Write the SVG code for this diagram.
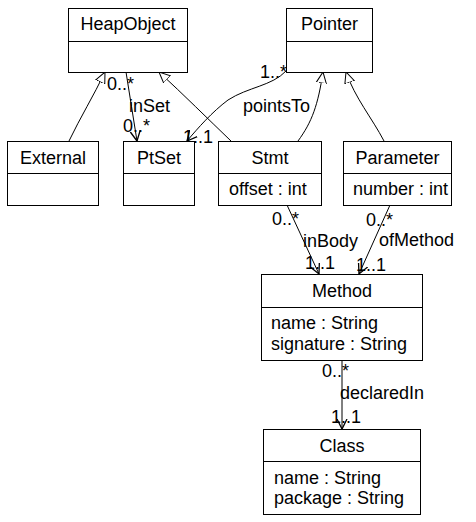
<svg xmlns="http://www.w3.org/2000/svg" width="476" height="522" viewBox="0 0 476 522">
<style>
.box{fill:#fff;stroke:#000;stroke-width:1}
.div{stroke:#000;stroke-width:1}
.t{font-family:"Liberation Sans",Arial,sans-serif;font-size:18px;fill:#000}
.c{text-anchor:middle}
.ln{fill:none;stroke:#000;stroke-width:1}
</style>
<defs>
<marker id="gen" markerWidth="12" markerHeight="12" refX="11" refY="5" orient="auto" markerUnits="userSpaceOnUse" viewBox="0 0 12 10">
<path d="M0,0 L11,5 L0,10 z" fill="#fff" stroke="#000" stroke-width="1"/>
</marker>
<marker id="open" markerWidth="12" markerHeight="12" refX="10" refY="5" orient="auto" markerUnits="userSpaceOnUse" viewBox="0 0 12 10">
<path d="M0,0 L10,5 L0,10" fill="none" stroke="#000" stroke-width="1.3"/>
</marker>
</defs>
<rect width="476" height="522" fill="#fff"/>
<g id="connectors">
<path class="ln" d="M69,141 C80,118 94,95 105,72" marker-end="url(#gen)"/>
<path class="ln" d="M231,141 C207,118 184,95 159,72" marker-end="url(#gen)"/>
<path class="ln" d="M298,141 C312,122 318,105 323,72" marker-end="url(#gen)"/>
<path class="ln" d="M384,141 C372,118 355,98 346,72" marker-end="url(#gen)"/>
<path class="ln" d="M126,72 C130,95 133,118 137,141" marker-end="url(#open)"/>
<path class="ln" d="M286,71 C272,86 248,87 228,100 C212,112 198,128 187,141" marker-end="url(#open)"/>
<path class="ln" d="M287,205 L319,274" marker-end="url(#open)"/>
<path class="ln" d="M390,205 L359,274" marker-end="url(#open)"/>
<path class="ln" d="M342,360 L342,429" marker-end="url(#open)"/>
<text class="t" x="107" y="90">0..*</text>
<text class="t" x="129" y="112">inSet</text>
<text class="t" x="123" y="132">0..*</text>
<text class="t" x="260" y="78">1..*</text>
<text class="t" x="243" y="112">pointsTo</text>
<text class="t" x="183" y="143">1..1</text>
<text class="t" x="272" y="225">0..*</text>
<text class="t" x="303" y="247">inBody</text>
<text class="t" x="305" y="269">1..1</text>
<text class="t" x="366" y="226">0..*</text>
<text class="t" x="379" y="246">ofMethod</text>
<text class="t" x="356" y="271">1..1</text>
<text class="t" x="322" y="377">0..*</text>
<text class="t" x="340" y="399">declaredIn</text>
<text class="t" x="331" y="423">1..1</text>
</g>
<g id="HeapObject">
<rect class="box" x="68.5" y="8.5" width="119" height="64"/>
<line class="div" x1="68.5" y1="41.5" x2="187.5" y2="41.5"/>
<text class="t c" x="128" y="30">HeapObject</text>
</g>
<g id="Pointer">
<rect class="box" x="286.5" y="8.5" width="86" height="64"/>
<line class="div" x1="286.5" y1="41.5" x2="372.5" y2="41.5"/>
<text class="t c" x="329.5" y="30">Pointer</text>
</g>
<g id="External">
<rect class="box" x="7.5" y="141.5" width="91" height="64"/>
<line class="div" x1="7.5" y1="173.5" x2="98.5" y2="173.5"/>
<text class="t c" x="53" y="164">External</text>
</g>
<g id="PtSet">
<rect class="box" x="123.5" y="141.5" width="71" height="64"/>
<line class="div" x1="123.5" y1="173.5" x2="194.5" y2="173.5"/>
<text class="t c" x="159" y="164">PtSet</text>
</g>
<g id="Stmt">
<rect class="box" x="218.5" y="141.5" width="103" height="64"/>
<line class="div" x1="218.5" y1="173.5" x2="321.5" y2="173.5"/>
<text class="t c" x="270" y="164">Stmt</text>
<text class="t" x="229" y="195">offset : int</text>
</g>
<g id="Parameter">
<rect class="box" x="343.5" y="141.5" width="108" height="64"/>
<line class="div" x1="343.5" y1="173.5" x2="451.5" y2="173.5"/>
<text class="t c" x="397.5" y="164">Parameter</text>
<text class="t" x="353" y="195">number : int</text>
</g>
<g id="Method">
<rect class="box" x="261.5" y="274.5" width="161" height="86"/>
<line class="div" x1="261.5" y1="307.5" x2="422.5" y2="307.5"/>
<text class="t c" x="342" y="297">Method</text>
<text class="t" x="271" y="329">name : String</text>
<text class="t" x="271" y="350">signature : String</text>
</g>
<g id="Class">
<rect class="box" x="263.5" y="429.5" width="157" height="85"/>
<line class="div" x1="263.5" y1="461.5" x2="420.5" y2="461.5"/>
<text class="t c" x="342" y="452">Class</text>
<text class="t" x="274" y="484">name : String</text>
<text class="t" x="274" y="504">package : String</text>
</g>
</svg>
